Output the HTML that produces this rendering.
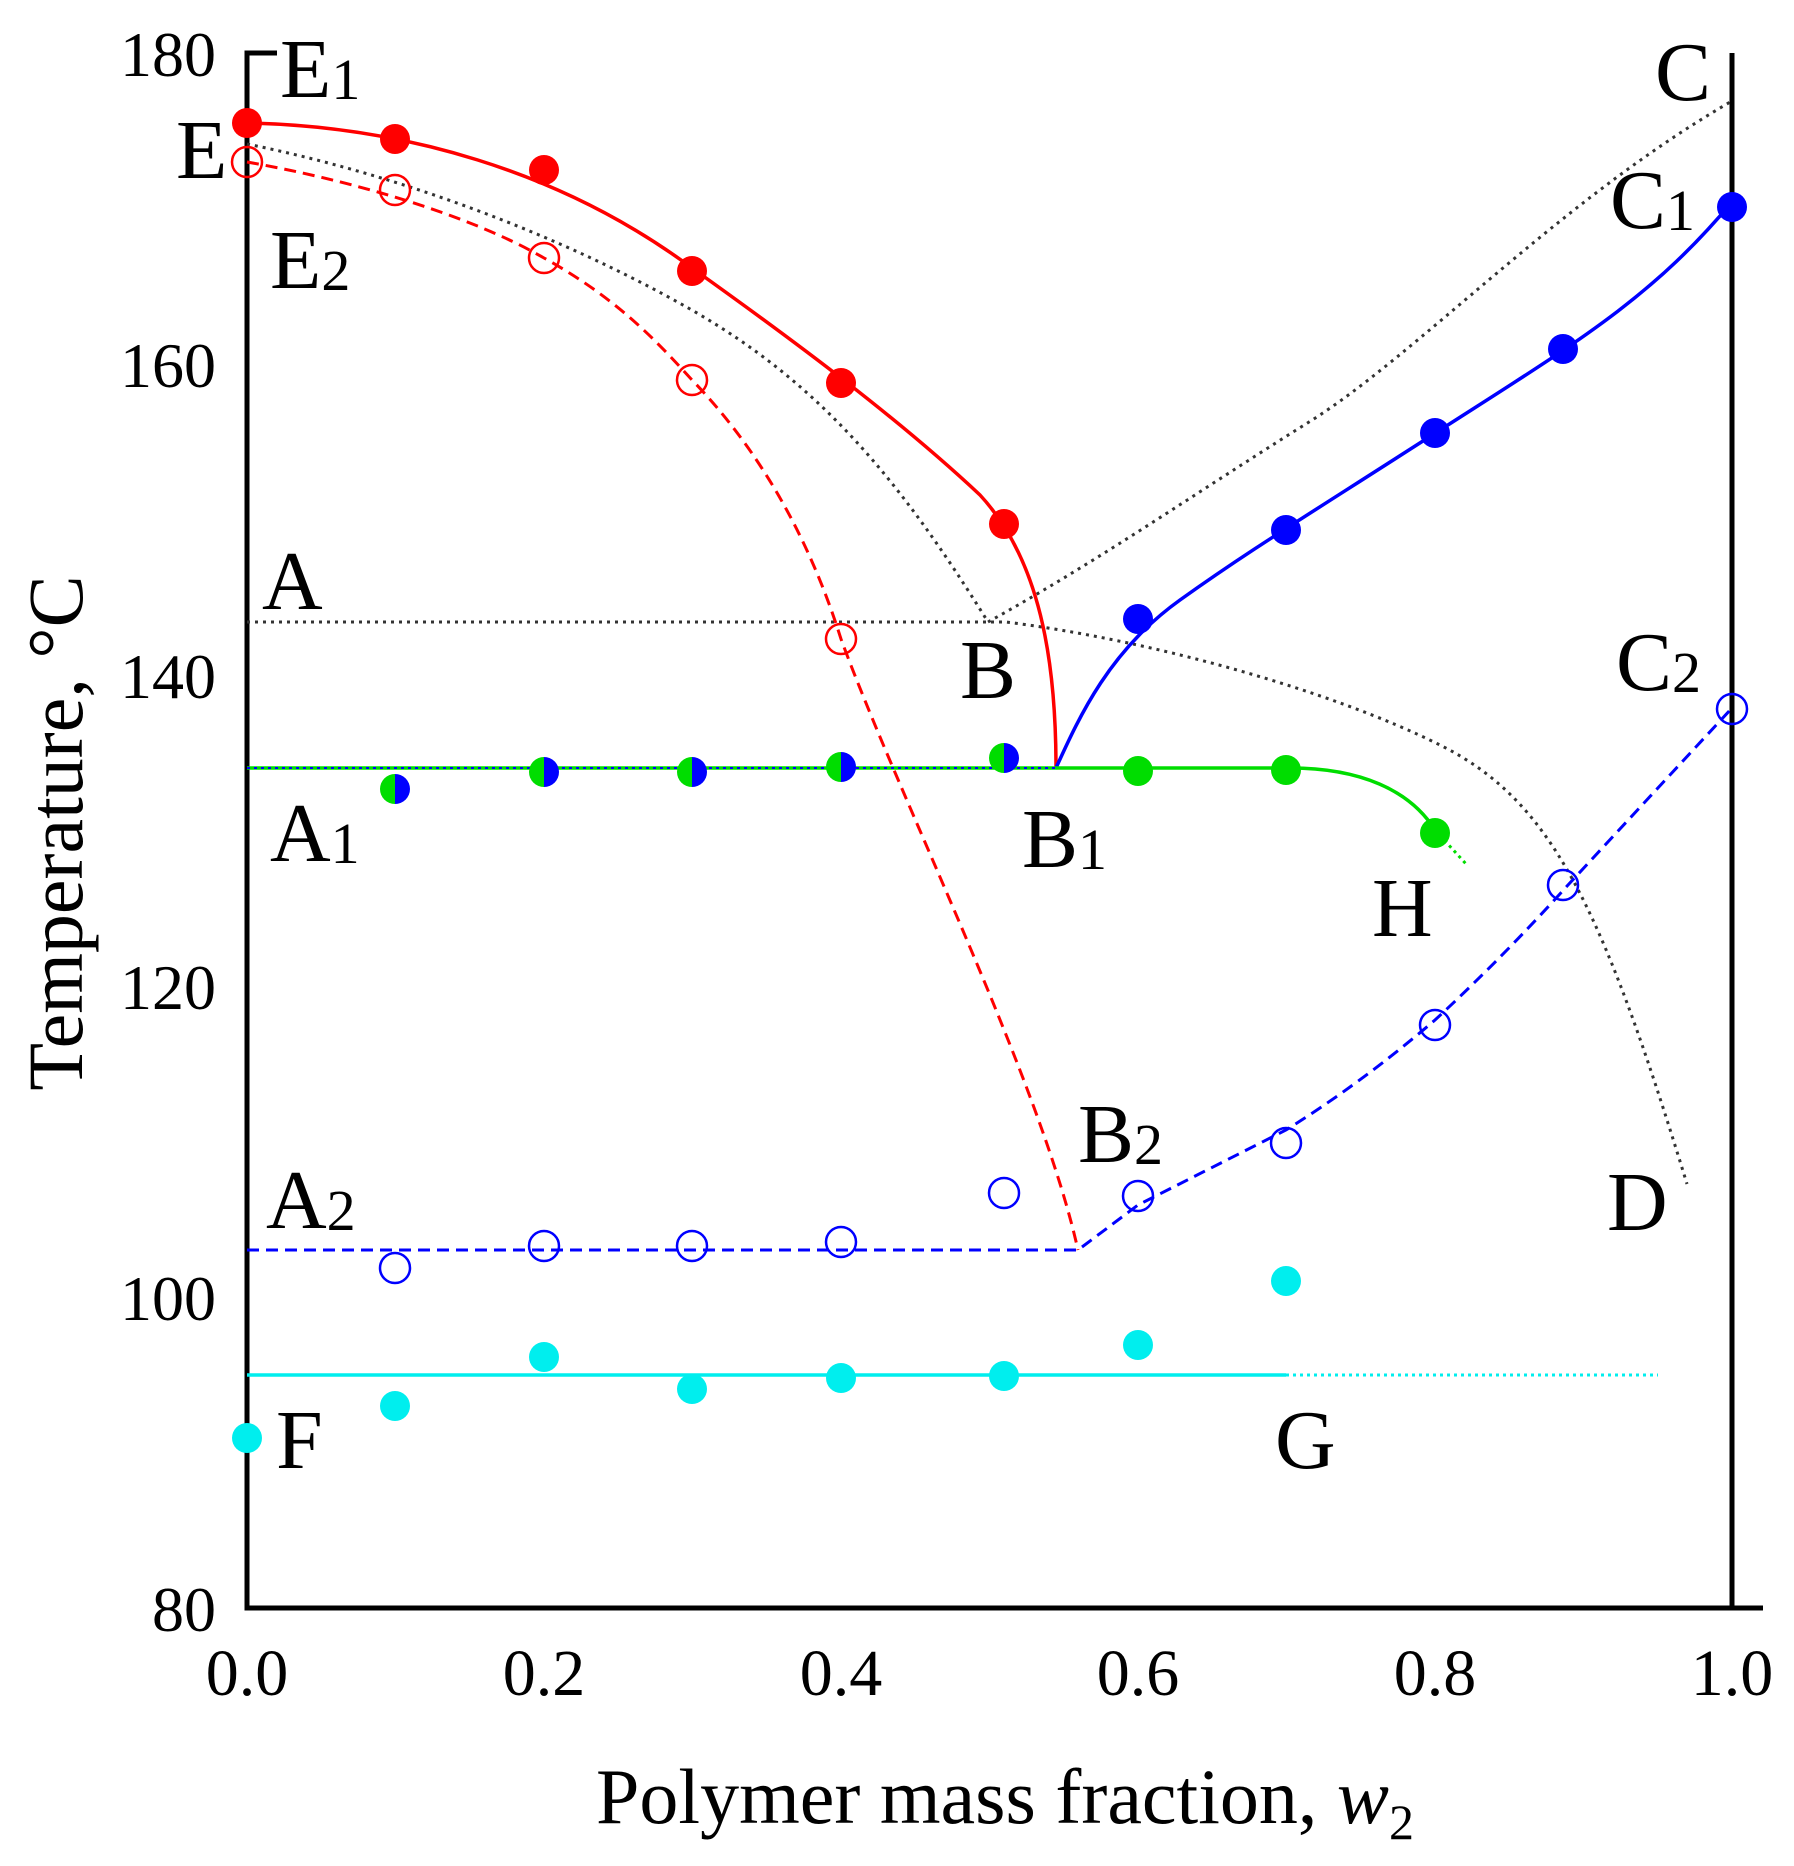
<!DOCTYPE html>
<html><head><meta charset="utf-8"><style>
html,body{margin:0;padding:0;background:#fff}
svg{display:block}
text{font-family:"Liberation Serif",serif;fill:#000}
</style></head><body>
<svg width="1794" height="1866" viewBox="0 0 1794 1866" xmlns="http://www.w3.org/2000/svg">
<g stroke="#000" stroke-width="5" fill="none">
<polyline points="277,53 247,53 247,1608 1763,1608"/>
<line x1="1732" y1="53" x2="1732" y2="1608"/>
</g>
<g font-size="64" text-anchor="end">
<text x="216" y="76">180</text>
<text x="216" y="387">160</text>
<text x="216" y="698">140</text>
<text x="216" y="1009">120</text>
<text x="216" y="1320">100</text>
<text x="216" y="1631">80</text>
</g>
<g font-size="66" text-anchor="middle">
<text x="247" y="1695">0.0</text>
<text x="544" y="1695">0.2</text>
<text x="841" y="1695">0.4</text>
<text x="1138" y="1695">0.6</text>
<text x="1435" y="1695">0.8</text>
<text x="1732" y="1695">1.0</text>
</g>
<text x="1005" y="1823" font-size="78" text-anchor="middle">Polymer mass fraction, <tspan font-style="italic">w</tspan><tspan font-size="50" dy="16">2</tspan></text>
<text transform="translate(82,833) rotate(-90)" font-size="78" text-anchor="middle">Temperature, °C</text>

<g stroke="#333" stroke-width="3" fill="none" stroke-dasharray="3,5">
<path d="M247,144 C400,175 560,235 690,309 S900,480 988,622"/>
<path d="M247,622 L1006,622 C1150,640 1330,690 1440,745 S1600,900 1687,1184"/>
<path d="M988,622 C1100,560 1200,490 1309,422 S1560,200 1732,101"/>
</g>
<path d="M247,123 C400,126 560,170 692,268 C800,345 900,420 980,495 C1040,560 1056,660 1056,768" stroke="#f00" stroke-width="3.5" fill="none"/>
<path d="M247,162 C350,180 470,215 544,258 C620,300 660,345 692,380 C760,450 810,540 841,639 C900,800 1040,1080 1078,1250" stroke="#f00" stroke-width="3" fill="none" stroke-dasharray="12,7"/>
<path d="M1056,768 C1080,715 1110,650 1180,600 S1300,520 1437,432 S1650,300 1732,202" stroke="#00f" stroke-width="3.5" fill="none"/>
<path d="M247,1250 L1078,1250 L1138,1205 L1286,1130 C1350,1090 1400,1050 1435,1020 C1500,960 1550,905 1568,885 L1732,708" stroke="#00f" stroke-width="3" fill="none" stroke-dasharray="12,7"/>
<path d="M247,768 L1290,768 C1360,768 1410,790 1435,830" stroke="#0d0" stroke-width="3.5" fill="none"/>
<line x1="1435" y1="830" x2="1467" y2="865" stroke="#0d0" stroke-width="3" stroke-dasharray="3,4"/>
<line x1="247" y1="768" x2="1056" y2="768" stroke="#00f" stroke-width="2" stroke-dasharray="3,4"/>
<line x1="247" y1="1375" x2="1286" y2="1375" stroke="#0ee" stroke-width="3.5"/>
<line x1="1286" y1="1375" x2="1658" y2="1375" stroke="#0ee" stroke-width="3" stroke-dasharray="3,4"/>

<g fill="#f00">
<circle cx="247" cy="123" r="15"/><circle cx="395" cy="139" r="15"/><circle cx="544" cy="170" r="15"/>
<circle cx="692" cy="271" r="15"/><circle cx="841" cy="383" r="15"/><circle cx="1004" cy="524" r="15"/>
</g>
<g fill="none" stroke="#f00" stroke-width="2.5">
<circle cx="247" cy="162" r="15"/><circle cx="395" cy="190" r="15"/><circle cx="544" cy="258" r="15"/>
<circle cx="692" cy="380" r="15"/><circle cx="841" cy="639" r="15"/>
</g>
<g fill="#00f">
<circle cx="1138" cy="619" r="15"/><circle cx="1286" cy="530" r="15"/><circle cx="1435" cy="433" r="15"/>
<circle cx="1563" cy="349" r="15"/><circle cx="1732" cy="207" r="15"/>
</g>
<g fill="none" stroke="#00f" stroke-width="2.5">
<circle cx="395" cy="1268" r="15"/><circle cx="544" cy="1246" r="15"/><circle cx="692" cy="1246" r="15"/>
<circle cx="841" cy="1242" r="15"/><circle cx="1004" cy="1193" r="15"/><circle cx="1138" cy="1196" r="15"/>
<circle cx="1286" cy="1143" r="15"/><circle cx="1435" cy="1025" r="15"/><circle cx="1563" cy="885" r="15"/>
<circle cx="1732" cy="709" r="15"/>
</g>
<g fill="#0d0">
<circle cx="1138" cy="771" r="15"/><circle cx="1286" cy="770" r="15"/><circle cx="1435" cy="833" r="15"/>
</g>
<g>
<path d="M395,774 a15,15 0 0,0 0,30 z" fill="#0d0"/><path d="M395,774 a15,15 0 0,1 0,30 z" fill="#00f"/>
<path d="M544,757 a15,15 0 0,0 0,30 z" fill="#0d0"/><path d="M544,757 a15,15 0 0,1 0,30 z" fill="#00f"/>
<path d="M692,757 a15,15 0 0,0 0,30 z" fill="#0d0"/><path d="M692,757 a15,15 0 0,1 0,30 z" fill="#00f"/>
<path d="M841,752 a15,15 0 0,0 0,30 z" fill="#0d0"/><path d="M841,752 a15,15 0 0,1 0,30 z" fill="#00f"/>
<path d="M1004,743 a15,15 0 0,0 0,30 z" fill="#0d0"/><path d="M1004,743 a15,15 0 0,1 0,30 z" fill="#00f"/>
</g>
<g fill="#0ee">
<circle cx="247" cy="1438" r="15"/><circle cx="395" cy="1406" r="15"/><circle cx="544" cy="1357" r="15"/>
<circle cx="692" cy="1389" r="15"/><circle cx="841" cy="1378" r="15"/><circle cx="1004" cy="1376" r="15"/>
<circle cx="1138" cy="1345" r="15"/><circle cx="1286" cy="1281" r="15"/>
</g>

<g font-size="84">
<text x="280" y="97">E<tspan font-size="58" dy="2">1</tspan></text>
<text x="176" y="178">E</text>
<text x="270" y="288">E<tspan font-size="58" dy="2">2</tspan></text>
<text x="262" y="609">A</text>
<text x="960" y="698">B</text>
<text x="270" y="861">A<tspan font-size="58" dy="2">1</tspan></text>
<text x="1022" y="867">B<tspan font-size="58" dy="2">1</tspan></text>
<text x="1372" y="936">H</text>
<text x="1655" y="100">C</text>
<text x="1610" y="228">C<tspan font-size="58" dy="2">1</tspan></text>
<text x="1616" y="690">C<tspan font-size="58" dy="2">2</tspan></text>
<text x="1078" y="1162">B<tspan font-size="58" dy="2">2</tspan></text>
<text x="266" y="1228">A<tspan font-size="58" dy="2">2</tspan></text>
<text x="1607" y="1230">D</text>
<text x="276" y="1468">F</text>
<text x="1275" y="1468">G</text>
</g>
</svg>
</body></html>
